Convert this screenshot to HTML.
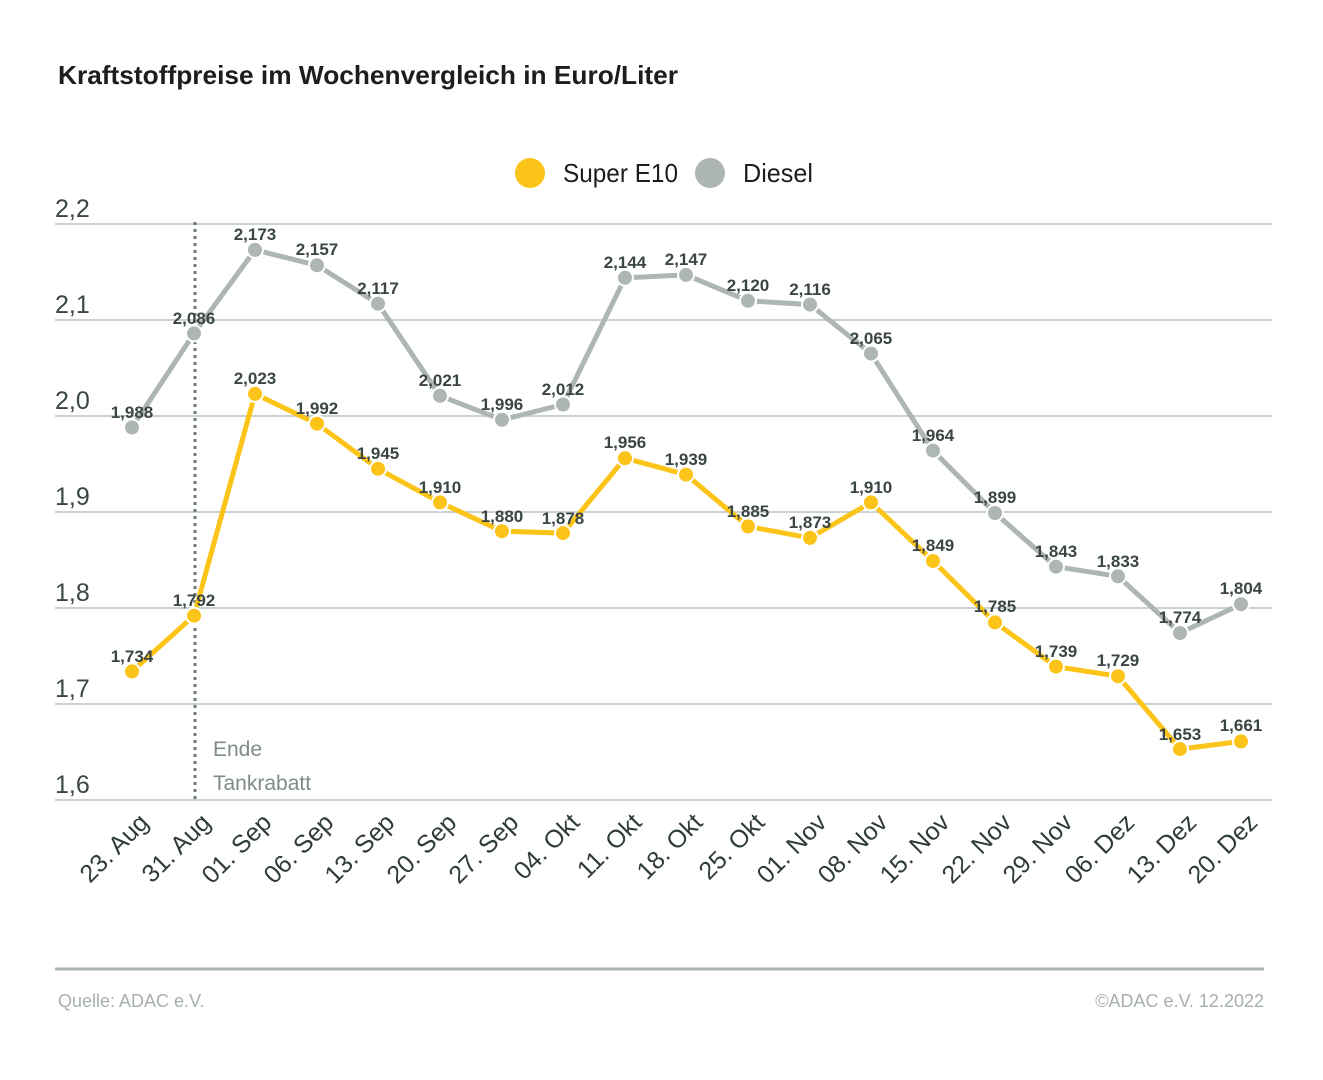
<!DOCTYPE html>
<html><head><meta charset="utf-8"><style>
html,body{margin:0;padding:0;background:#fff;}
svg{display:block;font-family:"Liberation Sans",sans-serif;}
.v{font-size:17px;fill:#3b4545;text-anchor:middle;font-weight:bold;}
.t{font-size:25px;fill:#2f3a3a;text-anchor:end;}
.y{font-size:25px;fill:#3b4545;}
</style></head><body>
<svg width="1323" height="1080" viewBox="0 0 1323 1080">
<text x="58" y="84" font-size="26" font-weight="bold" fill="#1d1d1d" textLength="620" lengthAdjust="spacingAndGlyphs">Kraftstoffpreise im Wochenvergleich in Euro/Liter</text>
<circle cx="530" cy="173" r="15" fill="#fcc419"/>
<text x="563" y="182" font-size="26" fill="#1d1d1d" textLength="115" lengthAdjust="spacingAndGlyphs">Super E10</text>
<circle cx="710" cy="173" r="15" fill="#aeb6b2"/>
<text x="743" y="182" font-size="26" fill="#1d1d1d" textLength="70" lengthAdjust="spacingAndGlyphs">Diesel</text>
<g stroke="#c9d2cf" stroke-width="2">
<line x1="55" y1="224" x2="1272" y2="224"/><line x1="55" y1="320" x2="1272" y2="320"/>
<line x1="55" y1="416" x2="1272" y2="416"/><line x1="55" y1="512" x2="1272" y2="512"/>
<line x1="55" y1="608" x2="1272" y2="608"/><line x1="55" y1="704" x2="1272" y2="704"/>
<line x1="55" y1="800" x2="1272" y2="800"/></g>
<g class="y"><text x="55" y="217">2,2</text><text x="55" y="313">2,1</text><text x="55" y="409">2,0</text><text x="55" y="505">1,9</text><text x="55" y="601">1,8</text><text x="55" y="697">1,7</text><text x="55" y="793">1,6</text></g>
<line x1="195" y1="222" x2="195" y2="802" stroke="#6e7a7a" stroke-width="3" stroke-dasharray="3,4"/>
<text x="213" y="756" font-size="21" fill="#7f8b8a">Ende</text>
<text x="213" y="790" font-size="21" fill="#7f8b8a">Tankrabatt</text>
<polyline fill="none" stroke="#aeb6b2" stroke-width="5" stroke-linejoin="round" points="132,427.5 194,333.4 255,249.9 317,265.3 378,303.7 440,395.8 502,419.8 563,404.5 625,277.8 686,274.9 748,300.8 810,304.6 871,353.6 933,450.6 995,513 1056,566.7 1118,576.3 1180,633 1241,604.2"/>
<polyline fill="none" stroke="#fcc419" stroke-width="5" stroke-linejoin="round" points="132,671.4 194,615.7 255,393.9 317,423.7 378,468.8 440,502.4 502,531.2 563,533.1 625,458.2 686,474.6 748,526.4 810,537.9 871,502.4 933,561 995,622.4 1056,666.6 1118,676.2 1180,749.1 1241,741.4"/>
<g fill="#aeb6b2" stroke="#fff" stroke-width="2">
<circle cx="132" cy="427.5" r="8"/><circle cx="194" cy="333.4" r="8"/><circle cx="255" cy="249.9" r="8"/><circle cx="317" cy="265.3" r="8"/><circle cx="378" cy="303.7" r="8"/><circle cx="440" cy="395.8" r="8"/><circle cx="502" cy="419.8" r="8"/><circle cx="563" cy="404.5" r="8"/><circle cx="625" cy="277.8" r="8"/><circle cx="686" cy="274.9" r="8"/><circle cx="748" cy="300.8" r="8"/><circle cx="810" cy="304.6" r="8"/><circle cx="871" cy="353.6" r="8"/><circle cx="933" cy="450.6" r="8"/><circle cx="995" cy="513" r="8"/><circle cx="1056" cy="566.7" r="8"/><circle cx="1118" cy="576.3" r="8"/><circle cx="1180" cy="633" r="8"/><circle cx="1241" cy="604.2" r="8"/></g>
<g fill="#fcc419" stroke="#fff" stroke-width="2">
<circle cx="132" cy="671.4" r="8"/><circle cx="194" cy="615.7" r="8"/><circle cx="255" cy="393.9" r="8"/><circle cx="317" cy="423.7" r="8"/><circle cx="378" cy="468.8" r="8"/><circle cx="440" cy="502.4" r="8"/><circle cx="502" cy="531.2" r="8"/><circle cx="563" cy="533.1" r="8"/><circle cx="625" cy="458.2" r="8"/><circle cx="686" cy="474.6" r="8"/><circle cx="748" cy="526.4" r="8"/><circle cx="810" cy="537.9" r="8"/><circle cx="871" cy="502.4" r="8"/><circle cx="933" cy="561" r="8"/><circle cx="995" cy="622.4" r="8"/><circle cx="1056" cy="666.6" r="8"/><circle cx="1118" cy="676.2" r="8"/><circle cx="1180" cy="749.1" r="8"/><circle cx="1241" cy="741.4" r="8"/></g>
<g class="v">
<text x="132" y="418">1,988</text><text x="194" y="324">2,086</text><text x="255" y="240">2,173</text><text x="317" y="255">2,157</text><text x="378" y="294">2,117</text><text x="440" y="386">2,021</text><text x="502" y="410">1,996</text><text x="563" y="395">2,012</text><text x="625" y="268">2,144</text><text x="686" y="265">2,147</text><text x="748" y="291">2,120</text><text x="810" y="295">2,116</text><text x="871" y="344">2,065</text><text x="933" y="441">1,964</text><text x="995" y="503">1,899</text><text x="1056" y="557">1,843</text><text x="1118" y="567">1,833</text><text x="1180" y="623">1,774</text><text x="1241" y="594">1,804</text>
<text x="132" y="662">1,734</text><text x="194" y="606">1,792</text><text x="255" y="384">2,023</text><text x="317" y="414">1,992</text><text x="378" y="459">1,945</text><text x="440" y="493">1,910</text><text x="502" y="522">1,880</text><text x="563" y="524">1,878</text><text x="625" y="448">1,956</text><text x="686" y="465">1,939</text><text x="748" y="517">1,885</text><text x="810" y="528">1,873</text><text x="871" y="493">1,910</text><text x="933" y="551">1,849</text><text x="995" y="612">1,785</text><text x="1056" y="657">1,739</text><text x="1118" y="666">1,729</text><text x="1180" y="740">1,653</text><text x="1241" y="731">1,661</text></g>
<g class="t">
<text transform="translate(150,824) rotate(-45)">23. Aug</text>
<text transform="translate(212,824) rotate(-45)">31. Aug</text>
<text transform="translate(273,824) rotate(-45)">01. Sep</text>
<text transform="translate(335,824) rotate(-45)">06. Sep</text>
<text transform="translate(396,824) rotate(-45)">13. Sep</text>
<text transform="translate(458,824) rotate(-45)">20. Sep</text>
<text transform="translate(520,824) rotate(-45)">27. Sep</text>
<text transform="translate(581,824) rotate(-45)">04. Okt</text>
<text transform="translate(643,824) rotate(-45)">11. Okt</text>
<text transform="translate(704,824) rotate(-45)">18. Okt</text>
<text transform="translate(766,824) rotate(-45)">25. Okt</text>
<text transform="translate(828,824) rotate(-45)">01. Nov</text>
<text transform="translate(889,824) rotate(-45)">08. Nov</text>
<text transform="translate(951,824) rotate(-45)">15. Nov</text>
<text transform="translate(1013,824) rotate(-45)">22. Nov</text>
<text transform="translate(1074,824) rotate(-45)">29. Nov</text>
<text transform="translate(1136,824) rotate(-45)">06. Dez</text>
<text transform="translate(1198,824) rotate(-45)">13. Dez</text>
<text transform="translate(1259,824) rotate(-45)">20. Dez</text></g>
<line x1="55" y1="969" x2="1264" y2="969" stroke="#aeb6b2" stroke-width="3"/>
<text x="58" y="1007" font-size="18" fill="#a7b0ae">Quelle: ADAC e.V.</text>
<text x="1264" y="1007" font-size="18" fill="#a7b0ae" text-anchor="end">©ADAC e.V.  12.2022</text>
</svg>
</body></html>
